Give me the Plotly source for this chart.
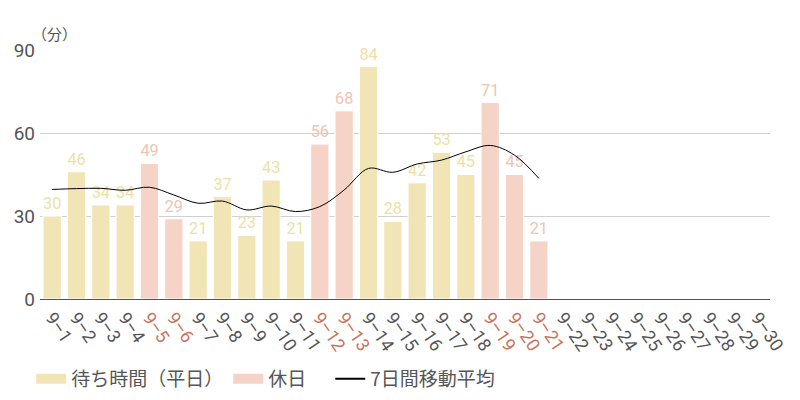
import plotly.graph_objects as go

# days of September
days = [f"9–{d}" for d in range(1, 31)]
holidays = ["9–5", "9–6", "9–12", "9–13", "9–19", "9–20", "9–21"]

# weekday waiting time (minutes)
weekday_days = ["9–1", "9–2", "9–3", "9–4", "9–7", "9–8", "9–9", "9–10", "9–11",
                "9–14", "9–15", "9–16", "9–17", "9–18"]
weekday_vals = [30, 46, 34, 34, 21, 37, 23, 43, 21, 84, 28, 42, 53, 45]

# holiday waiting time (minutes)
holiday_vals = [49, 29, 56, 68, 71, 45, 21]

# 7 day moving average
avg_days = days[:21]
avg_vals = [39.6, 39.9, 40.0, 39.3, 40.4, 37.6, 34.6, 35.4, 32.2, 33.6, 31.6,
            33.4, 39.4, 47.2, 45.8, 48.8, 50.2, 53.2, 55.5, 52.0, 43.6]

weekday_color = "#f1e5b6"
holiday_color = "#f5d3c7"
holiday_text = "#c8735d"
num_font = "Roboto, sans-serif"
jp_font = "Noto Sans CJK JP, sans-serif"

ticktext = [f"<span style='color:{holiday_text}'>{d}</span>" if d in holidays else d
            for d in days]

fig = go.Figure()

fig.add_trace(go.Bar(
    x=weekday_days, y=weekday_vals, name="待ち時間（平日）", showlegend=False,
    marker=dict(color=weekday_color, line=dict(color="white", width=1)),
    text=weekday_vals, textposition="outside", cliponaxis=False,
    textfont=dict(color="#eedfa6", size=20, family=num_font),
))
fig.add_trace(go.Bar(
    x=holidays, y=holiday_vals, name="休日", showlegend=False,
    marker=dict(color=holiday_color, line=dict(color="white", width=1)),
    text=holiday_vals, textposition="outside", cliponaxis=False,
    textfont=dict(color="#f0c3b4", size=20, family=num_font),
))
fig.add_trace(go.Scatter(
    x=avg_days, y=avg_vals, name="7日間移動平均", mode="lines", showlegend=False,
    line=dict(color="black", width=1, shape="spline"),
))

# legend entries (wide swatches like the original); trailing space only pads the gap
for name, color, width in [("待ち時間（平日）", weekday_color, 16),
                           ("休日\u3000", holiday_color, 16),
                           ("7日間移動平均", "black", 2)]:
    fig.add_trace(go.Scatter(x=[None], y=[None], mode="lines", name=name,
                             line=dict(color=color, width=width)))

# the page adds an 8px body margin, so margins are shifted to compensate
fig.update_layout(
    width=800, height=400,
    margin=dict(l=32, r=38, t=42, b=109, autoexpand=False),
    plot_bgcolor="white", paper_bgcolor="white",
    barmode="overlay", bargap=0.25,
    font=dict(family=jp_font, color="#555555"),
    showlegend=True,
    legend=dict(orientation="h", x=-0.012, y=-0.245, xanchor="left", yanchor="top",
                font=dict(size=19, color="#555555", family=jp_font),
                itemwidth=30, tracegroupgap=0),
    annotations=[dict(text="（分）", x=0.02, y=1.0, xref="paper", yref="paper",
                      xanchor="center", yanchor="middle", yshift=17, showarrow=False,
                      font=dict(size=15, color="#555555", family=jp_font))],
)
fig.update_xaxes(
    type="category", categoryorder="array", categoryarray=days,
    tickmode="array", tickvals=days, ticktext=ticktext, tickangle=56,
    tickfont=dict(size=18, color="#555555", family=num_font),
    showline=True, linecolor="#555555", linewidth=1, showgrid=False,
    range=[-0.5, 29.5], automargin=False,
)
fig.update_yaxes(
    range=[0, 90], tickvals=[0, 30, 60, 90],
    tickfont=dict(size=19, color="#555555", family=num_font),
    showgrid=True, gridcolor="#d0d0d0", gridwidth=1, zeroline=False,
    automargin=False, ticklabelstandoff=4,
)

fig.write_html("out.html")
